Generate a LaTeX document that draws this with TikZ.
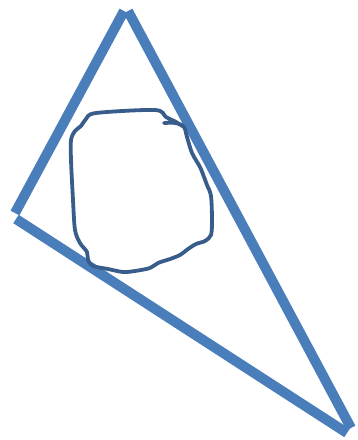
\documentclass[tikz,border=0pt]{standalone}
\definecolor{triblue}{HTML}{4A7EBB}
\definecolor{loopblue}{HTML}{385D8A}
\tikzset{
  side/.style={draw=triblue, line width=10pt, line cap=butt},
  loopline/.style={draw=loopblue, line width=3.8pt, line join=round, line cap=round}
}
\begin{document}
\begin{tikzpicture}[x=1pt,y=-1pt]
\useasboundingbox (0,0) rectangle (357,440);
\coordinate (topL) at (124,11);
\coordinate (topR) at (128,11);
\coordinate (leftA) at (15,213);
\coordinate (leftB) at (16,219);
\coordinate (botA) at (347,433);
\coordinate (botB) at (351,428);
\draw[side] (leftA) -- (topL);
\draw[side] (topR) -- (botB);
\draw[side] (leftB) -- (botA);
\draw[loopline] plot[smooth, tension=0.5] coordinates {
 (164,123) (176,123) (184,127) (187,137) (192,153) (200,167) (204,177) (207,185)
 (211,196) (212,220) (211,235) (205,241) (196,244) (188,249) (180,255) (170,259)
 (158,263) (150,268) (135,271) (123,272) (108,269) (93,266) (88,260) (87,252)
 (80,243) (75,230) (73,200) (71,160) (71,140) (75,131) (81,126) (86,119) (96,113)
 (155,110) (166,117) (176,122) (184,127)};
\end{tikzpicture}
\end{document}
